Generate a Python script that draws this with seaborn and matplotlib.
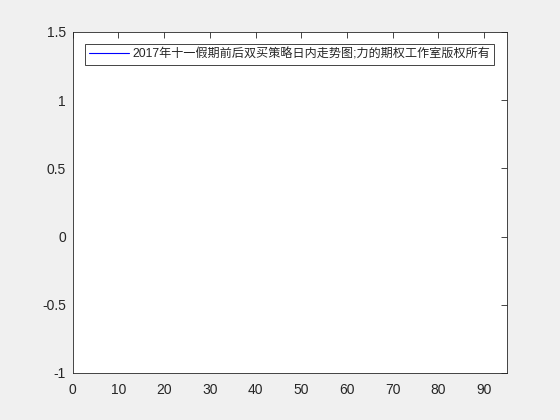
import numpy as np
import pandas as pd
import seaborn as sns
import matplotlib.pyplot as plt

# series shown in the legend (no visible points in the chart)
x_vals = []
y_vals = []
series_label = "2017年十一假期前后双买策略日内走势图;力的期权工作室版权所有"
x_ticks = [0, 10, 20, 30, 40, 50, 60, 70, 80, 90]
y_ticks = [-1, -0.5, 0, 0.5, 1, 1.5]
y_tick_labels = ["-1", "-0.5", "0", "0.5", "1", "1.5"]

sns.set_style("white")
plt.rcParams['font.family'] = ['Liberation Sans', 'Noto Sans CJK SC']

fig = plt.figure(figsize=(5.6, 4.2), dpi=100, facecolor="#f0f0f0")
ax = fig.add_axes([0.13, 0.112, 0.775, 0.812])
ax.set_facecolor("white")

ax.plot(x_vals, y_vals, color="#0000ff", lw=0.8, label=series_label)

ax.set_xlim(0, 95)
ax.set_ylim(-1, 1.5)
ax.set_xticks(x_ticks)
ax.set_yticks(y_ticks)
ax.set_yticklabels(y_tick_labels)
ax.tick_params(direction="in", length=4, width=0.6, top=True, right=True,
               labelsize=10, colors="#262626")
ax.tick_params(axis="x", pad=7)
ax.tick_params(axis="y", pad=5)
for s in ax.spines.values():
    s.set_color("#262626")
    s.set_linewidth(0.6)

leg = ax.legend(loc="upper center", fontsize=8.7, handlelength=3.3,
                handletextpad=0.25, borderpad=0.35, borderaxespad=1.0,
                fancybox=False, framealpha=1, edgecolor="#262626")
leg.get_frame().set_linewidth(0.6)

fig.savefig("out.png", dpi=100, facecolor=fig.get_facecolor())
